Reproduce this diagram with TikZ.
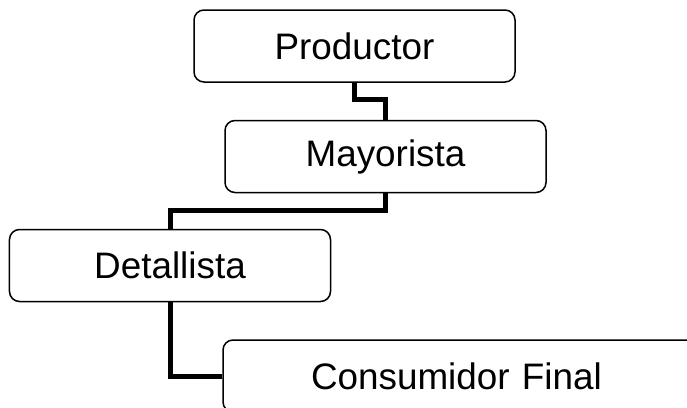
\documentclass[tikz,border=0pt]{standalone}
\usepackage{fontspec}
\setmainfont{Liberation Sans}
\begin{document}
\begin{tikzpicture}[x=1bp,y=-1bp,
  box/.style={draw=black, line width=1.5bp, rounded corners=10bp, inner sep=0pt,
    minimum width=321bp, minimum height=72bp, font=\fontsize{37}{42}\selectfont},
  link/.style={draw=black, line width=5bp}]
\useasboundingbox (0,0) rectangle (687,407);
\clip (0,0) rectangle (687,407);
\node[box] (P) at (354.5,46) {Productor};
\node[box] (M) at (385.5,156.5) {Mayorista};
\node[box] (D) at (170,265.5) {Detallista};
\node[box, minimum width=497bp, text width=497bp, align=left] (C) at (471.5,376) {\hspace*{88bp}Consumidor Final};
\draw[link] (P.south) -- ++(0,17) -| (M.north);
\draw[link] (M.south) -- ++(0,17) -| (D.north);
\draw[link] (D.south) |- (C.west);
\end{tikzpicture}
\end{document}
